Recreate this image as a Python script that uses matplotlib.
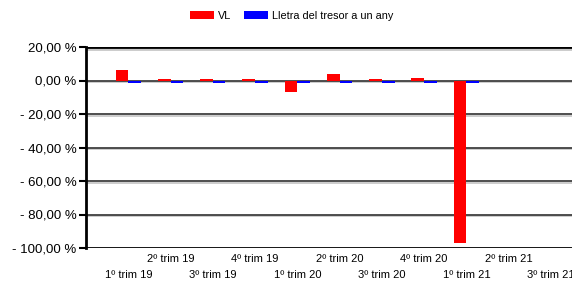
import numpy as np
import matplotlib.pyplot as plt
import matplotlib.patheffects as pe

plt.rcParams['font.family'] = ['Liberation Sans', 'DejaVu Sans']

trimestres = ['1º trim 19', '2º trim 19', '3º trim 19', '4º trim 19',
              '1º trim 20', '2º trim 20', '3º trim 20', '4º trim 20',
              '1º trim 21', '2º trim 21', '3º trim 21']
vl = [6.4, 0.8, 0.8, 0.8, -6.8, 4.0, 0.9, 1.5, -96.8, np.nan, np.nan]
lletra = [-1.5, -1.4, -1.4, -1.4, -1.4, -1.4, -1.5, -1.5, -1.5, np.nan, np.nan]
yticks = [20, 0, -20, -40, -60, -80, -100]

def fmt(v):
    s = f'{abs(v):.2f}'.replace('.', ',') + ' %'
    return '- ' + s if v < 0 else s

fig = plt.figure(figsize=(5.72, 2.82), dpi=100)
ax = fig.add_axes([86/572, 1 - 248/282, 1 - 86/572, 201/282])

x = np.arange(len(trimestres))
w = 0.3
ax.bar(x - w/2, vl, w, color='#ff0000', label='VL', zorder=5)
ax.bar(x + w/2, lletra, w, color='#0000ff', label='Lletra del tresor a un any', zorder=5)

shadow = [pe.SimpleLineShadow(offset=(0, -1.2), shadow_color='#c8c8c8', alpha=1), pe.Normal()]
for v in yticks:
    edge = v in (20, -100)
    ax.axhline(v, color='black' if edge else '#404040', lw=2 if edge else 1.3,
               zorder=1, path_effects=shadow)

ax.set_xlim(-1, 10.5)
ax.set_ylim(-100, 20)
ax.set_yticks(yticks, [fmt(v) for v in yticks], fontsize=9.5)
ax.tick_params(axis='y', length=5, width=1.5, pad=2, colors='black')

ax.set_xticks(x[1::2], trimestres[1::2], fontsize=8)
ax.set_xticks(x[0::2], trimestres[0::2], minor=True, fontsize=8)
ax.tick_params(axis='x', which='major', length=0, pad=4)
ax.tick_params(axis='x', which='minor', length=0, pad=16)

for s in ['top', 'right', 'bottom']:
    ax.spines[s].set_visible(False)
ax.spines['left'].set_linewidth(2)
ax.spines['left'].set_zorder(6)

fig.legend(loc='center', bbox_to_anchor=(0.51, 0.945), ncol=2, frameon=False,
           fontsize=7.8, handlelength=2.2, handleheight=0.8, columnspacing=1.2,
           handletextpad=0.4)

fig.savefig('out.png', dpi=100)
